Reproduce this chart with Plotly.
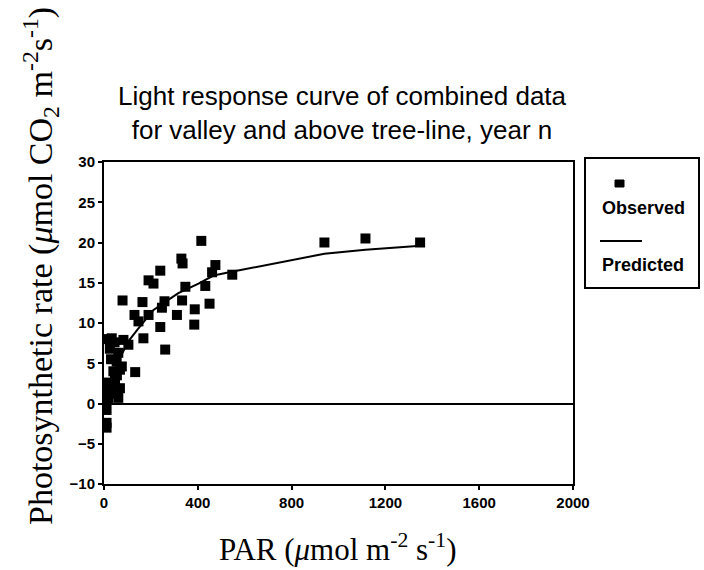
import plotly.graph_objects as go

# Observed data (PAR, photosynthetic rate)
obs_par = [1348, 1115, 940, 415, 547, 475, 461, 432, 450, 385, 387, 330, 335, 347,
           311, 240, 258, 333, 247, 240, 190, 211, 164, 79, 130, 190, 147, 168, 261,
           33, 83, 104, 61, 54, 76, 133, 68, 47, 68, 26, 11, 61, 18, 4, 0, 11, 11, 11,
           10, 45, 25, 30, 40, 55, 35, 20, 5]
obs_rate = [20.0, 20.5, 20.0, 20.2, 16.0, 17.2, 16.3, 14.6, 12.4, 9.8, 11.7, 18.0, 17.4, 14.5,
            11.0, 16.5, 12.7, 12.8, 11.9, 9.5, 15.3, 14.9, 12.6, 12.8, 11.0, 11.0, 10.2, 8.1, 6.7,
            8.1, 7.9, 7.3, 6.3, 5.2, 4.6, 3.9, 4.2, 3.0, 1.9, 2.1, 1.5, 0.7, 0.5, -0.1, -0.7, -0.8, -2.4, -3.0,
            8.0, 7.6, 6.8, 5.5, 4.0, 3.5, 1.2, 2.6, 1.0]

# Predicted curve
pred_par = [0, 20, 50, 103, 146, 210, 260, 317, 403, 467, 550, 940, 1115, 1350]
pred_rate = [-0.5, 1.8, 4.6, 7.7, 9.3, 11.6, 12.6, 13.7, 14.9, 15.9, 16.4, 18.6, 19.1, 19.6]

x_ticks = [0, 400, 800, 1200, 1600, 2000]
y_ticks = [-10, -5, 0, 5, 10, 15, 20, 25, 30]

fig = go.Figure()
fig.add_trace(go.Scatter(x=pred_par, y=pred_rate, mode="lines",
                         line=dict(color="black", width=2), name="Predicted"))
fig.add_trace(go.Scatter(x=obs_par, y=obs_rate, mode="markers",
                         marker=dict(symbol="square", size=10, color="black"), name="Observed"))

L, R, T, B = 104, 131, 162, 86
W, H = 704, 570
pw, ph = W - L - R, H - T - B

def px(x):
    return (x - L) / pw

def py(y):
    return (H - B - y) / ph

fig.update_layout(
    width=W, height=H,
    margin=dict(l=L, r=R, t=T, b=B),
    paper_bgcolor="white", plot_bgcolor="white",
    showlegend=False,
    xaxis=dict(range=[0, 2000], tickvals=x_ticks, showgrid=False, zeroline=False,
               showline=True, linecolor="black", linewidth=2, mirror=True,
               ticks="outside", ticklen=4, tickwidth=2, tickcolor="black",
               tickfont=dict(family="Arial, Liberation Sans", size=15, color="black", weight="bold")),
    yaxis=dict(range=[-10, 30], tickvals=y_ticks, showgrid=False,
               zeroline=True, zerolinecolor="black", zerolinewidth=1.5,
               showline=True, linecolor="black", linewidth=2, mirror=True,
               ticks="outside", ticklen=4, tickwidth=2, tickcolor="black",
               tickfont=dict(family="Arial, Liberation Sans", size=15, color="black", weight="bold")),
)

serif = "Times New Roman, Liberation Serif, serif"
sans = "Arial, Liberation Sans, sans-serif"

fig.add_annotation(xref="paper", yref="paper", x=px(342), y=py(113),
                   text="Light response curve of combined data<br>for valley and above tree-line, year n",
                   showarrow=False, font=dict(family=sans, size=26, color="black"),
                   xanchor="center", yanchor="middle", align="center")
fig.add_annotation(xref="paper", yref="paper", x=px(338), y=py(547),
                   text="PAR (<i>μ</i>mol m<sup>-2</sup> s<sup>-1</sup>)",
                   showarrow=False, font=dict(family=serif, size=31, color="black"),
                   xanchor="center", yanchor="middle")
fig.add_annotation(xref="paper", yref="paper", x=px(40), y=py(266),
                   text="Photosynthetic rate (<i>μ</i>mol CO<sub>2</sub> m<sup>-2</sup>s<sup>-1</sup>)",
                   textangle=-90, showarrow=False,
                   font=dict(family=serif, size=34, color="black"),
                   xanchor="center", yanchor="middle")

# Legend box
fig.add_shape(type="rect", xref="paper", yref="paper",
              x0=px(585), x1=px(699), y0=py(288), y1=py(158),
              line=dict(color="black", width=2), fillcolor="white")
fig.add_shape(type="rect", xref="paper", yref="paper",
              x0=px(615), x1=px(624), y0=py(187), y1=py(180),
              line=dict(color="black", width=1), fillcolor="black")
fig.add_shape(type="line", xref="paper", yref="paper",
              x0=px(600), x1=px(642), y0=py(241), y1=py(241),
              line=dict(color="black", width=2))
fig.add_annotation(xref="paper", yref="paper", x=px(600), y=py(208), text="Observed",
                   showarrow=False, xanchor="left", yanchor="middle",
                   font=dict(family=sans, size=18, color="black", weight="bold"))
fig.add_annotation(xref="paper", yref="paper", x=px(600), y=py(265), text="Predicted",
                   showarrow=False, xanchor="left", yanchor="middle",
                   font=dict(family=sans, size=18, color="black", weight="bold"))

fig.write_html("out.html", config={"displayModeBar": False},
               post_script="document.body.style.margin='0';document.body.style.overflow='hidden';")
